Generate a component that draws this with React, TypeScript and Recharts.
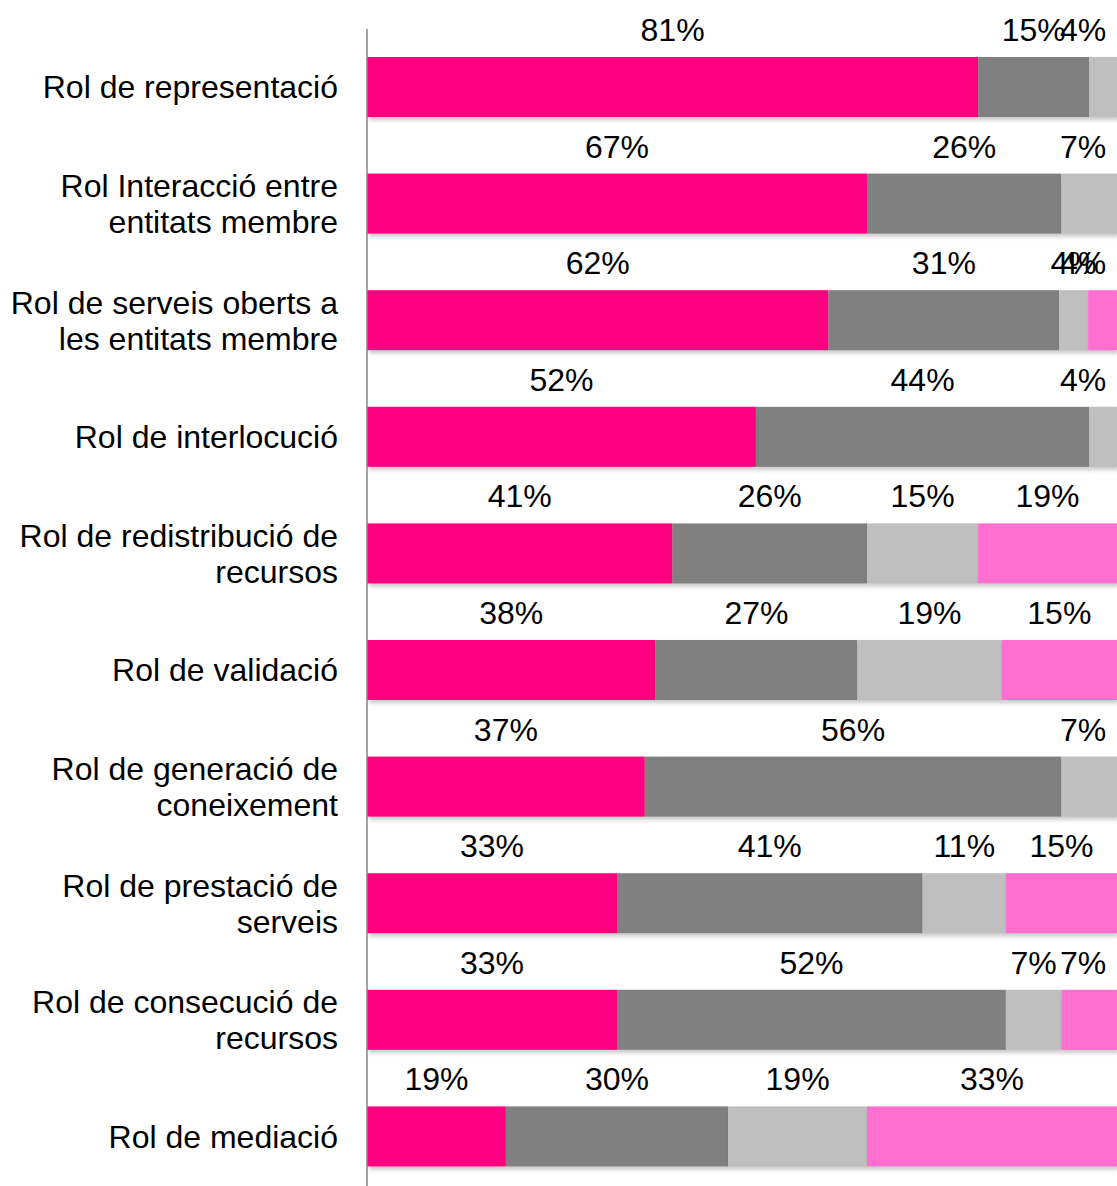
import React from "react";
import { BarChart, Bar, XAxis, YAxis, LabelList } from "recharts";

const categories = [
  "Rol de representació",
  "Rol Interacció entre\nentitats membre",
  "Rol de serveis oberts a\nles entitats membre",
  "Rol de interlocució",
  "Rol de redistribució de\nrecursos",
  "Rol de validació",
  "Rol de generació de\nconeixement",
  "Rol de prestació de\nserveis",
  "Rol de consecució de\nrecursos",
  "Rol de mediació",
];

// shares in %, labels show them rounded
const seriesA = [81.48, 66.67, 61.54, 51.85, 40.74, 38.46, 37.04, 33.33, 33.33, 18.52];
const seriesB = [14.81, 25.93, 30.77, 44.44, 25.93, 26.92, 55.56, 40.74, 51.85, 29.63];
const seriesC = [3.7, 7.41, 3.85, 3.7, 14.81, 19.23, 7.41, 11.11, 7.41, 18.52];
const seriesD = [0, 0, 3.85, 0, 18.52, 15.38, 0, 14.81, 7.41, 33.33];

const COLORS = ["#FF0080", "#808080", "#BFBFBF", "#FF6FCF"];
const FONT = "'Liberation Sans', Arial, sans-serif";

const data = categories.map((name, i) => ({
  name,
  a: seriesA[i],
  b: seriesB[i],
  c: seriesC[i],
  d: seriesD[i],
}));

const W = 1117;
const H = 1200;

function CategoryTick(props: any) {
  const { x, y, payload } = props;
  const lines = String(payload.value).split("\n");
  const lh = 36;
  const start = -((lines.length - 1) * lh) / 2;
  return (
    <text x={x} y={y} textAnchor="end" fontSize={32} fontFamily={FONT} fill="#000">
      {lines.map((l, i) => (
        <tspan key={i} x={x} dy={i === 0 ? start + 11 : lh}>
          {l}
        </tspan>
      ))}
    </text>
  );
}

function makeLabel(values: number[]) {
  return (props: any) => {
    const { x, y, width, index } = props;
    const v = values[index];
    if (!v) return null;
    const cx = Math.min(Number(x) + Number(width) / 2, W - 34);
    return (
      <text
        x={cx}
        y={Number(y) - 16}
        textAnchor="middle"
        fontSize={32}
        fontFamily={FONT}
        fill="#000"
      >
        {`${Math.round(v)}%`}
      </text>
    );
  };
}

const shadowShape = (props: any) => {
  const { x, y, width, height, fill } = props;
  if (!width) return <g />;
  return (
    <rect
      x={x}
      y={y}
      width={width}
      height={height}
      fill={fill}
      style={{ filter: "drop-shadow(2px 3px 2px rgba(0,0,0,0.22))" }}
    />
  );
};

export default function App() {
  const series = [
    { key: "a", values: seriesA },
    { key: "b", values: seriesB },
    { key: "c", values: seriesC },
    { key: "d", values: seriesD },
  ];
  return (
    <div
      style={{
        position: "fixed",
        top: 0,
        left: 0,
        width: W,
        height: 1186,
        overflow: "hidden",
        background: "#fff",
      }}
    >
      <BarChart
        width={W}
        height={H}
        data={data}
        layout="vertical"
        stackOffset="expand"
        margin={{ top: 29, right: 0, bottom: 5, left: 0 }}
        barSize={60}
      >
        <XAxis type="number" hide domain={[0, 1]} />
        <YAxis
          type="category"
          dataKey="name"
          width={367}
          tickSize={0}
          tickMargin={29}
          tickLine={false}
          axisLine={{ stroke: "#868686", strokeWidth: 1.5 }}
          tick={<CategoryTick />}
          interval={0}
        />
        {series.map((s, i) => (
          <Bar
            key={s.key}
            dataKey={s.key}
            stackId="s"
            fill={COLORS[i]}
            isAnimationActive={false}
            shape={shadowShape}
          >
            <LabelList dataKey={s.key} content={makeLabel(s.values)} />
          </Bar>
        ))}
      </BarChart>
    </div>
  );
}
